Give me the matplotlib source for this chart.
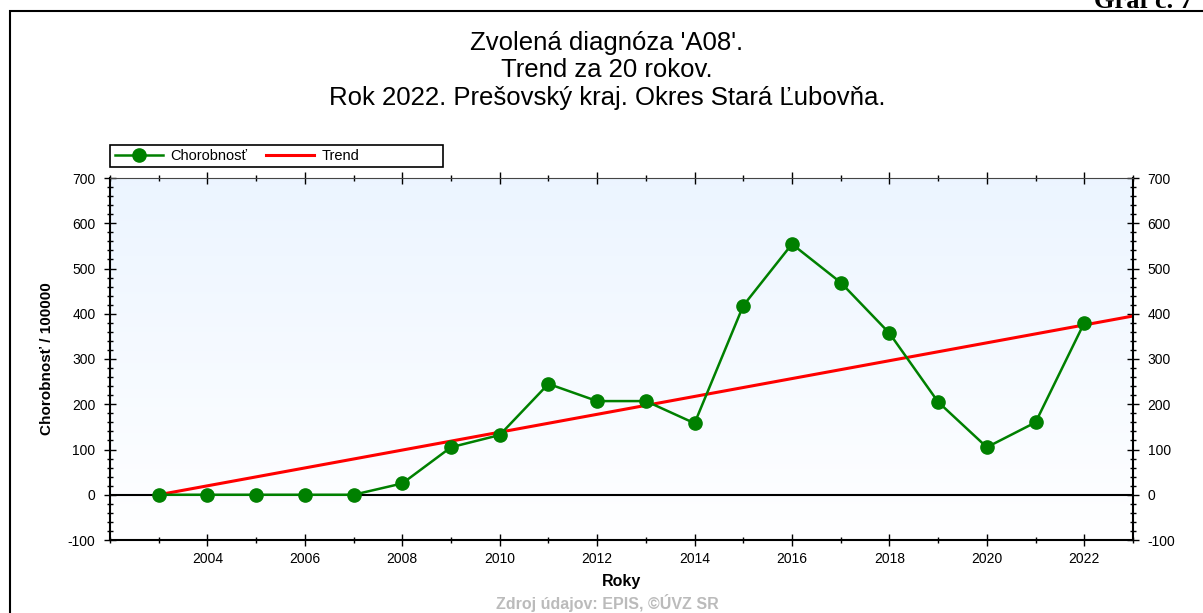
import numpy as np
import matplotlib.pyplot as plt
from matplotlib.patches import Rectangle
from matplotlib.ticker import MultipleLocator, FixedLocator

# Data
years = [2003, 2004, 2005, 2006, 2007, 2008, 2009, 2010, 2011, 2012,
         2013, 2014, 2015, 2016, 2017, 2018, 2019, 2020, 2021, 2022]
morbidity = [0, 0, 0, 0, 0, 25, 105, 132, 245, 207,
             207, 158, 418, 554, 469, 357, 205, 105, 160, 380]
trend_years = [2003, 2023]
trend_values = [0, 395]
labelled_years = [2004, 2006, 2008, 2010, 2012, 2014, 2016, 2018, 2020, 2022]

plt.rcParams['font.family'] = ['Liberation Sans', 'DejaVu Sans']
plt.rcParams['axes.unicode_minus'] = False

fig = plt.figure(figsize=(12.03, 6.13), dpi=100)
W, H = 1203, 613
# plot area in pixels: left 110, right 1133, top 178, bottom 540
ax = fig.add_axes([110 / W, 1 - 540 / H, (1133 - 110) / W, (540 - 178) / H])

# light blue gradient background
grad = np.linspace(0, 1, 256).reshape(-1, 1)
top = np.array([0.925, 0.960, 1.0])
bot = np.array([1.0, 1.0, 1.0])
img = bot + (top - bot) * grad
ax.imshow(img.reshape(256, 1, 3), extent=[0, 1, 0, 1], transform=ax.transAxes,
          origin='lower', aspect='auto', zorder=0)

ax.axhline(0, color='black', linewidth=1.5, zorder=1)
ax.plot(trend_years, trend_values, color='red', linewidth=2.2, label='Trend', zorder=2)
ax.plot(years, morbidity, color='green', linewidth=1.8, marker='o', markersize=9.5,
        label='Chorobnosť', zorder=3)

ax.set_xlim(2002, 2023)
ax.set_ylim(-100, 700)
ax.xaxis.set_major_locator(FixedLocator(labelled_years))
ax.xaxis.set_minor_locator(MultipleLocator(1))
ax.yaxis.set_major_locator(MultipleLocator(100))
ax.yaxis.set_minor_locator(MultipleLocator(20))
ax.tick_params(which='both', direction='inout', top=True, right=True,
               labelright=True, labelsize=10, width=1, color='black')
ax.tick_params(which='major', length=9)
ax.tick_params(which='minor', length=5)
ax.tick_params(axis='x', which='major', pad=4)
ax.tick_params(axis='y', which='major', pad=6)
for s in ['left', 'right', 'bottom']:
    ax.spines[s].set_linewidth(1.5)
ax.spines['top'].set_linewidth(0.8)
ax.spines['top'].set_color('#444444')

ax.set_xlabel('Roky', fontsize=11.5, fontweight='bold', labelpad=6)
ax.set_ylabel('Chorobnosť / 100000', fontsize=11, fontweight='bold', labelpad=10)

# title
title_lines = ["Zvolená diagnóza 'A08'.", "Trend za 20 rokov.",
               "Rok 2022. Prešovský kraj. Okres Stará Ľubovňa."]
for line, ypx in zip(title_lines, [43, 70, 98]):
    fig.text(607 / W, 1 - ypx / H, line, ha='center', va='center', fontsize=18.5)

# legend in a box above the plot
handles, labels = ax.get_legend_handles_labels()
handles = handles[::-1]
labels = labels[::-1]
fig.legend(handles, labels, loc='center left', bbox_to_anchor=(109 / W, 1 - 156 / H),
           ncol=2, frameon=False, fontsize=10.5, handlelength=3.3, columnspacing=1.3,
           handletextpad=0.5, borderaxespad=0)
fig.patches.append(Rectangle((110 / W, 1 - 167 / H), (443 - 110) / W, 22 / H,
                             transform=fig.transFigure, fill=False,
                             edgecolor='black', linewidth=1.2))

# outer frame and captions
fig.patches.append(Rectangle((10 / W, -0.05), 1.1, 1 - 11 / H + 0.05,
                             transform=fig.transFigure, fill=False,
                             edgecolor='black', linewidth=1.5))
fig.text(1193 / W, 1 - 8 / H, 'Graf č. 7', ha='right', va='baseline', fontsize=19,
         fontweight='bold', family=['Liberation Serif', 'DejaVu Serif'])
fig.text(607 / W, 1 - 612 / H, 'Zdroj údajov: EPIS, ©ÚVZ SR', ha='center', va='bottom',
         fontsize=11.5, color='#bbbbbb', fontweight='bold')

fig.savefig('out.png', dpi=100)
